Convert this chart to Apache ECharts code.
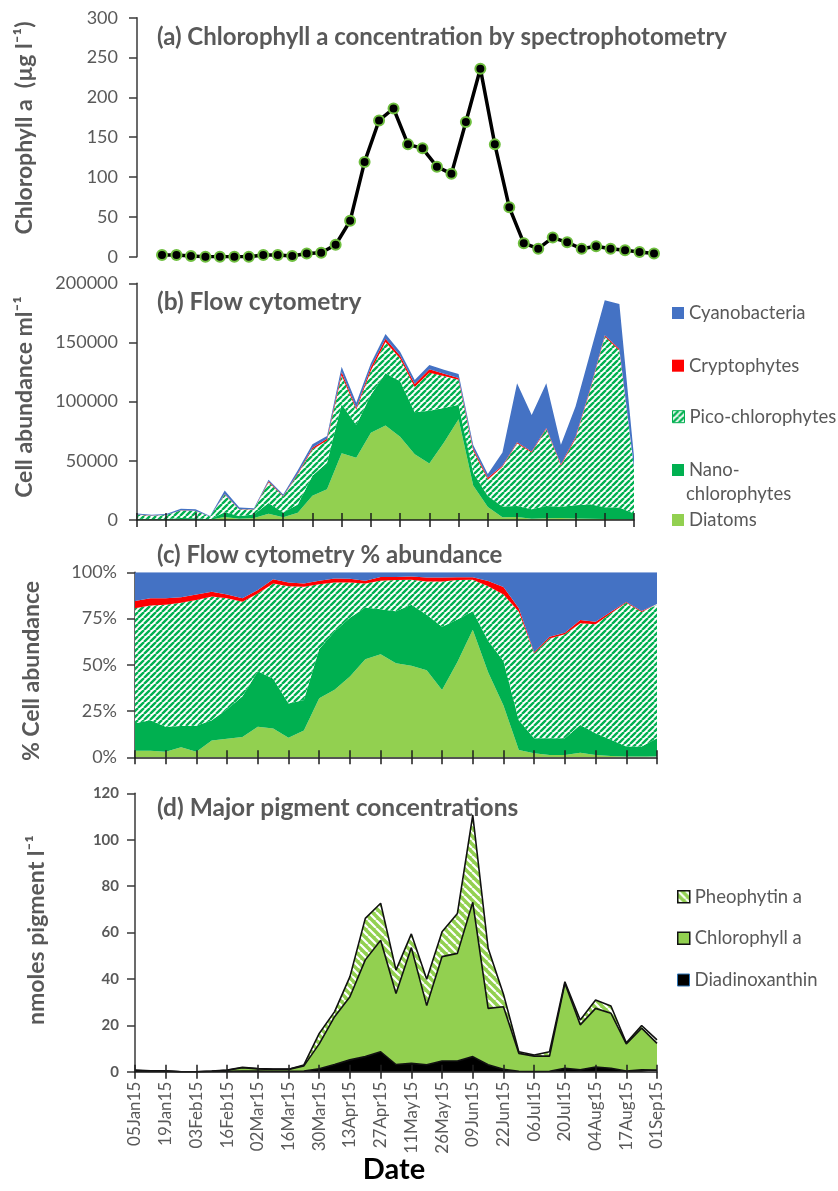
<!DOCTYPE html>
<html>
<head>
<meta charset="utf-8">
<script src="https://cdn.jsdelivr.net/npm/echarts@6/dist/echarts.min.js"></script>
<style>
  html, body { margin: 0; padding: 0; background: #ffffff; }
  #chart { width: 838px; height: 1191px; }
</style>
</head>
<body>
<div id="chart"></div>
<script>
// ---- Sampling axis: 35 weekly samples, every second one labelled ----
const sampleNo = [1,2,3,4,5,6,7,8,9,10,11,12,13,14,15,16,17,18,19,20,21,22,23,24,25,26,27,28,29,30,31,32,33,34,35];
const dateLabels = ['05Jan15','19Jan15','03Feb15','16Feb15','02Mar15','16Mar15','30Mar15','13Apr15','27Apr15',
  '11May15','26May15','09Jun15','22Jun15','06Jul15','20Jul15','04Aug15','17Aug15','01Sep15'];

// ---- (a) Chlorophyll a by spectrophotometry, µg/l ----
const chlSpectro = [2,2,1,0,0,0,0,2,2,1,4,5,15,45,119,171,186,141,136,113,104,169,236,141,62,17,10,24,18,10,13,10,8,6,4];

// ---- (b) Flow cytometry, cells/ml ----
const diatoms = [200,160,150,510,270,310,2500,1160,1650,5300,2260,6090,20400,25900,56500,52500,73700,79800,70300,55600,
  47700,65400,85100,29200,10900,2280,2540,1150,1500,1590,1250,990,740,730,210];
const nanoChloro = [830,740,680,1100,1260,370,4000,2310,3000,9150,3980,6930,17000,22400,41300,27700,32200,44300,46900,35500,
  44700,29200,12300,10800,9340,9120,9360,7980,10400,9510,11200,12300,10000,9860,5300];
const picoChloro = [3470,2790,3300,6320,6120,2280,15000,5360,4200,17500,13650,25700,22400,18800,24600,12900,20500,26400,19200,21300,
  32100,27100,21000,18700,14000,33500,53000,47900,64900,34900,56500,96400,144400,132700,38500];
const cryptophytes = [220,180,180,290,270,85,500,210,200,750,430,760,1280,1560,2600,1490,2650,2670,2410,2600,
  2880,1900,1600,1780,1560,1030,690,800,1040,1080,1250,1270,930,1100,320];
const cyanobacteria = [870,630,700,1280,1080,360,3000,1470,950,1290,1180,2520,2880,2340,4540,4460,3310,3930,3270,3310,
  3670,3430,3330,2980,3110,11100,49900,30900,37700,16400,25600,30000,29700,38100,9150];

// ---- (d) Major pigments, nmol/l ----
const diadinoxanthin = [0.2,0.1,0.1,0,0,0.1,0.2,0.3,0.3,0.2,0.2,0.3,1.3,3.1,5.1,6.5,8.6,3.1,3.6,3.0,4.6,4.6,6.5,3.0,1.0,
  0.2,0.1,0.2,1.5,0.8,2.0,1.5,0.3,0.8,0.7];
const chlorophyllA = [0.3,0.2,0.2,0,0,0.1,0.4,1.4,0.9,0.8,0.8,2.2,10.7,20.6,27.2,41.7,48.1,30.6,49.9,25.5,45,46.4,66.5,24.3,27,
  7.7,6.6,6.5,36.6,19.4,25.3,23.7,11.7,18,11.5];
const pheophytinA = [0.2,0.1,0.1,0,0,0.1,0.1,0.2,0.2,0.1,0.1,0.4,4.5,2.2,8.7,17.9,15.9,10.1,5.9,11.3,10.7,17.2,37.6,25.9,5.4,
  0.7,0.5,1.9,0.7,2.1,3.6,3.1,0.5,1.1,1.5];

// ---- colours ----
const C_CYANO = '#4472c4', C_CRYPTO = '#ff0000', C_NANO = '#00b050', C_DIATOM = '#92d050';
const TXT = '#595959', AXIS = '#3a3a3a', FONT = 'Lato';

// diagonal hatch fills
function hatch(bg, fg, size, width, up) {
  const c = document.createElement('canvas');
  c.width = c.height = size;
  const g = c.getContext('2d');
  g.fillStyle = bg; g.fillRect(0, 0, size, size);
  g.strokeStyle = fg; g.lineWidth = width;
  g.beginPath();
  for (let k = -1; k <= 1; k++) {
    if (up) { g.moveTo(k * size, size); g.lineTo(k * size + size, 0); }
    else { g.moveTo(k * size, 0); g.lineTo(k * size + size, size); }
  }
  g.stroke();
  return { image: c, repeat: 'repeat' };
}
const picoFill = hatch('#ffffff', C_NANO, 6, 2.4, true);
const pheoFill = hatch(C_DIATOM, '#ffffff', 8, 2.2, false);

// percentage composition for panel (c)
const groups = [diatoms, nanoChloro, picoChloro, cryptophytes, cyanobacteria];
const totals = sampleNo.map((_, i) => groups.reduce((s, g) => s + g[i], 0));
const pct = arr => arr.map((v, i) => +(v / totals[i] * 100).toFixed(3));

const chart = echarts.init(document.getElementById('chart'), null, { renderer: 'canvas' });

function tickAxis(gridIndex, inner, withLabels) {
  return {
    type: 'category', gridIndex, data: sampleNo, boundaryGap: false, position: 'bottom',
    z: inner ? 6 : 5,
    axisLine: { show: !inner, lineStyle: { color: '#1e1e1e', width: 1.5 } },
    axisTick: { show: true, interval: 1, inside: inner, length: 7, lineStyle: { color: '#1e1e1e', width: 1.5 } },
    axisLabel: withLabels && !inner ? {
      show: true, interval: 1, rotate: 90, margin: 10, color: TXT, fontFamily: FONT, fontSize: 17,
      formatter: (v, idx) => dateLabels[idx / 2] || ''
    } : { show: false },
    splitLine: { show: false }
  };
}

function valueAxis(gridIndex, max, interval, extra) {
  return Object.assign({
    type: 'value', gridIndex, min: 0, max, interval,
    axisLine: { show: true, lineStyle: { color: AXIS, width: 1.5 } },
    axisTick: { show: true, length: 8, lineStyle: { color: AXIS, width: 1.5 } },
    splitLine: { show: false },
    axisLabel: { color: TXT, fontFamily: FONT, fontSize: 18, margin: 19, formatter: v => String(v) }
  }, extra || {});
}

function area(name, data, color, xi, yi, stack, extra) {
  return Object.assign({
    name, type: 'line', data, stack, xAxisIndex: xi, yAxisIndex: yi,
    showSymbol: false, symbol: 'none', smooth: false,
    lineStyle: { width: 0 },
    areaStyle: { color, opacity: 1 },
    itemStyle: { color: typeof color === 'string' ? color : C_NANO },
    emphasis: { disabled: true }
  }, extra || {});
}

const pigLine = { width: 1.6, color: '#111111' };

function legendItem(name, top, left, itemStyle, formatter) {
  const l = {
    data: [name], orient: 'vertical', left, top, padding: 0, icon: 'rect',
    itemWidth: 12, itemHeight: 12, itemGap: 0, selectedMode: false,
    textStyle: { color: TXT, fontFamily: FONT, fontSize: 18.5, lineHeight: 20 },
    itemStyle
  };
  if (formatter) l.formatter = formatter;
  return l;
}

function titleText(text, x, y, size) {
  return { type: 'text', x, y, style: { text, fontFamily: FONT, fontSize: size, fontWeight: 'bold', fill: TXT, align: 'left', verticalAlign: 'middle' } };
}
function yTitle(text, x, y) {
  return { type: 'text', x, y, rotation: Math.PI / 2,
    style: { text, fontFamily: FONT, fontSize: 23, fontWeight: 'bold', fill: TXT, align: 'center', verticalAlign: 'middle' } };
}

const option = {
  animation: false,
  backgroundColor: '#ffffff',
  grid: [
    { left: 162, right: 184, top: 17.7, height: 239 },
    { left: 137, right: 204, top: 283.3, height: 236.7 },
    { left: 135, right: 181, top: 572.3, height: 185 },
    { left: 135, right: 181, top: 793.3, height: 278.4 }
  ],
  xAxis: [
    { type: 'category', gridIndex: 0, data: sampleNo, boundaryGap: false, show: false },
    tickAxis(1, false, false), tickAxis(1, true, false),
    tickAxis(2, false, false), tickAxis(2, true, false),
    tickAxis(3, false, true), tickAxis(3, true, true)
  ],
  yAxis: [
    valueAxis(0, 300, 50, { offset: 25 }),
    valueAxis(1, 200000, 50000),
    valueAxis(2, 100, 25, { axisLabel: { color: TXT, fontFamily: FONT, fontSize: 18, margin: 18, formatter: '{value}%' } }),
    valueAxis(3, 120, 20, { axisLabel: { color: TXT, fontFamily: FONT, fontSize: 15, fontWeight: 'bold', margin: 16 } })
  ],
  legend: [
    legendItem('Cyanobacteria', 303, 672, { color: C_CYANO, borderWidth: 0 }),
    legendItem('Cryptophytes', 355.7, 672, { color: C_CRYPTO, borderWidth: 0 }),
    legendItem('Pico-chlorophytes', 406.7, 672, { color: picoFill, borderColor: C_NANO, borderWidth: 1 }),
    legendItem('Nano-chlorophytes', 460, 672, { color: C_NANO, borderWidth: 0 }, () => 'Nano-'),
    legendItem('Diatoms', 510, 672, { color: C_DIATOM, borderWidth: 0 }),
    legendItem('Pheophytin a', 886.7, 677, { color: pheoFill, borderColor: '#111', borderWidth: 1.5 }),
    legendItem('Chlorophyll a', 928.3, 677, { color: C_DIATOM, borderColor: '#111', borderWidth: 1.5 }),
    legendItem('Diadinoxanthin', 970, 677, { color: '#000000', borderColor: '#2e75b6', borderWidth: 1 })
  ],
  series: [
    // (a)
    {
      name: 'Chl a spectrophotometry', type: 'line', data: chlSpectro, xAxisIndex: 0, yAxisIndex: 0,
      symbol: 'circle', symbolSize: 10, showSymbol: true, showAllSymbol: true,
      lineStyle: { color: '#000000', width: 3.5 },
      itemStyle: { color: '#000000', borderColor: '#6fbf3f', borderWidth: 2 },
      emphasis: { disabled: true }, z: 3
    },
    // (b) abundance
    area('Diatoms', diatoms, C_DIATOM, 1, 1, 'b'),
    area('Nano-chlorophytes', nanoChloro, C_NANO, 1, 1, 'b'),
    area('Pico-chlorophytes', picoChloro, picoFill, 1, 1, 'b'),
    area('Cryptophytes', cryptophytes, C_CRYPTO, 1, 1, 'b'),
    area('Cyanobacteria', cyanobacteria, C_CYANO, 1, 1, 'b'),
    // (c) % abundance
    area('Diatoms', pct(diatoms), C_DIATOM, 3, 2, 'c'),
    area('Nano-chlorophytes', pct(nanoChloro), C_NANO, 3, 2, 'c'),
    area('Pico-chlorophytes', pct(picoChloro), picoFill, 3, 2, 'c'),
    area('Cryptophytes', pct(cryptophytes), C_CRYPTO, 3, 2, 'c'),
    area('Cyanobacteria', pct(cyanobacteria), C_CYANO, 3, 2, 'c'),
    // (d) pigments
    area('Diadinoxanthin', diadinoxanthin, '#000000', 5, 3, 'd', { lineStyle: pigLine }),
    area('Chlorophyll a', chlorophyllA, C_DIATOM, 5, 3, 'd', { lineStyle: pigLine }),
    area('Pheophytin a', pheophytinA, pheoFill, 5, 3, 'd', { lineStyle: pigLine })
  ],
  graphic: [
    titleText('(a) Chlorophyll a concentration by spectrophotometry', 157, 37, 24),
    titleText('(b) Flow cytometry', 157, 301.7, 24.5),
    titleText('(c) Flow cytometry % abundance', 157, 555, 24),
    titleText('(d) Major pigment concentrations', 157, 808, 24.5),
    yTitle('Chlorophyll a  (µg l⁻¹)', 25, 128),
    yTitle('Cell abundance ml⁻¹', 25, 397),
    yTitle('% Cell abundance', 32, 671),
    yTitle('nmoles pigment l⁻¹', 37, 930),
    { type: 'text', x: 686, y: 494, style: { text: 'chlorophytes', fontFamily: FONT, fontSize: 18.5, fill: TXT, align: 'left', verticalAlign: 'middle' } },
    { type: 'text', x: 394, y: 1170, style: { text: 'Date', fontFamily: FONT, fontSize: 29, fontWeight: 'bold', fill: '#000000', align: 'center', verticalAlign: 'middle' } }
  ]
};

chart.setOption(option);
</script>
</body>
</html>
